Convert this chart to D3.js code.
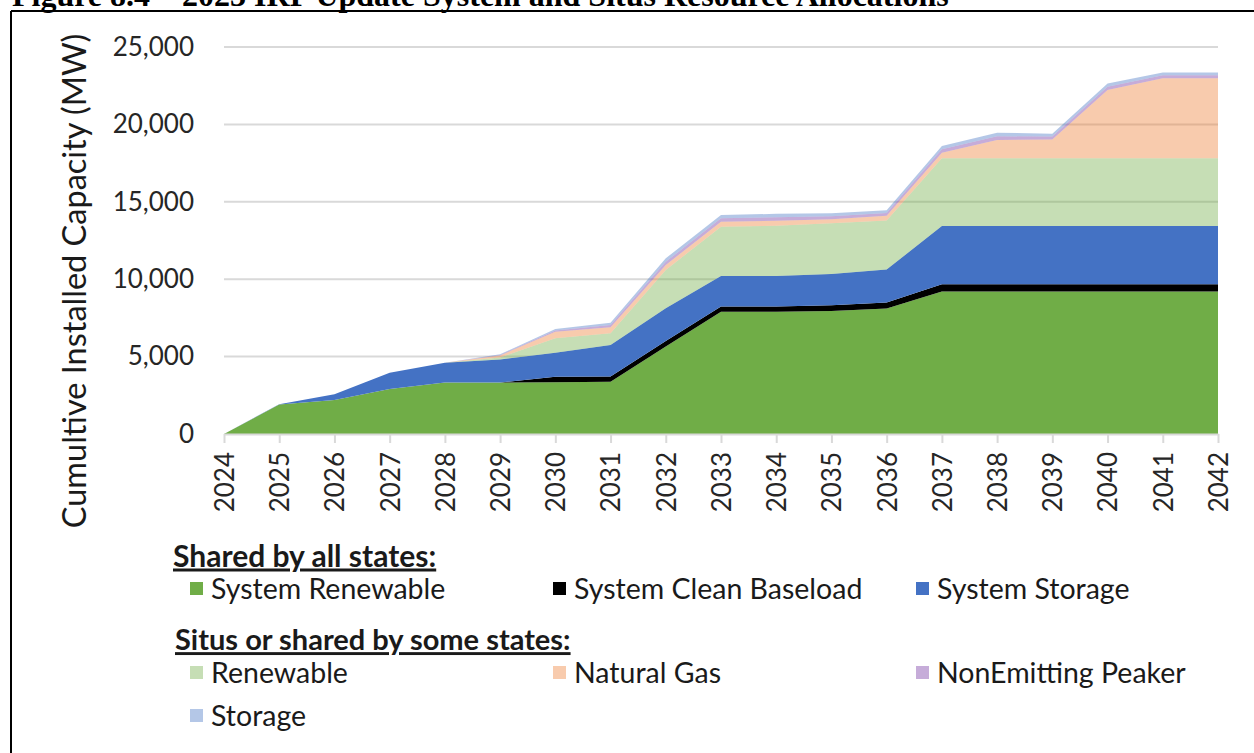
<!DOCTYPE html>
<html lang="en">
<head>
  <meta charset="UTF-8">
  <title>System and Situs Resource Allocations</title>
  <script src="https://d3js.org/d3.v7.min.js"></script>
  <style>
    body { margin: 0; background: white; }
    svg { display: block; }
    .tick text { font-family: Lato, sans-serif; fill: #262626; }
    .legend text { font-family: Lato, sans-serif; fill: #1a1a1a; }
  </style>
</head>
<body>
<svg id="chart"></svg>
<script>
// years on the x axis
const years = d3.range(2024, 2043);

// shared by all states (MW)
const systemRenewable     = [0,1900,2200,2900,3330,3330,3350,3380,5650,7900,7900,7950,8100,9200,9200,9200,9200,9200,9200];
const systemCleanBaseload = [0,0,0,0,0,0,350,330,360,330,330,360,400,470,470,470,470,470,470];
const systemStorage       = [0,20,370,1060,1280,1490,1550,2040,2110,1980,1980,2030,2120,3770,3770,3770,3770,3770,3770];

// situs or shared by some states
const situsRenewable      = [0,0,0,0,0,120,930,760,2480,3180,3240,3270,3180,4370,4370,4370,4370,4370,4370];
const naturalGas          = [0,0,0,0,0,130,430,380,320,325,330,260,300,360,1180,1220,4410,5170,5170];
const nonEmittingPeaker   = [0,0,0,0,0,40,80,150,200,220,220,200,180,230,240,190,220,190,190];
const situsStorage        = [0,0,0,0,0,40,90,150,230,215,220,190,170,200,230,180,210,190,190];

const yTicks = [0, 5000, 10000, 15000, 20000, 25000];

const seriesNames = ["System Renewable","System Clean Baseload","System Storage",
                     "Renewable","Natural Gas","NonEmitting Peaker","Storage"];
const seriesValues = [systemRenewable, systemCleanBaseload, systemStorage,
                      situsRenewable, naturalGas, nonEmittingPeaker, situsStorage];
const seriesColors = ["#70AD47","#000000","#4472C4","#70AD47","#ED7D31","#7030A0","#4472C4"];
const seriesOpacity = [1,1,1,0.4,0.4,0.4,0.4];

const width = 1254, height = 753;
const svg = d3.select("#chart").attr("width", width).attr("height", height);

// frame of the figure (top + left lines) and the caption, cut by the top edge
svg.append("line").attr("x1",11).attr("x2",width).attr("y1",11).attr("y2",11)
  .attr("stroke","#000").attr("stroke-width",2);
svg.append("line").attr("x1",11).attr("x2",11).attr("y1",11).attr("y2",height)
  .attr("stroke","#000").attr("stroke-width",2);
svg.append("text").attr("x",12).attr("y",6)
  .style("font-family","'Liberation Serif', 'Times New Roman', serif")
  .style("font-weight","bold").style("font-size","32px")
  .text("Figure 8.4 \u2013 2023 IRP Update System and Situs Resource Allocations");

const x = d3.scaleLinear().domain([2024, 2042]).range([224, 1218]);
const y = d3.scaleLinear().domain([0, 25000]).range([434, 47]);

// gridlines
svg.append("g").selectAll("line")
  .data(yTicks.filter(d => d > 0))
  .join("line")
  .attr("x1", x(2024)).attr("x2", x(2042))
  .attr("y1", d => y(d)).attr("y2", d => y(d))
  .attr("stroke", "#d9d9d9").attr("stroke-width", 2);

// stacked areas
const table = years.map((yr, i) => {
  const row = { year: yr };
  seriesNames.forEach((n, k) => row[n] = seriesValues[k][i]);
  return row;
});
const stack = d3.stack().keys(seriesNames)(table);
const area = d3.area()
  .x(d => x(d.data.year))
  .y0(d => y(d[0]))
  .y1(d => y(d[1]));

svg.append("g").selectAll("path")
  .data(stack)
  .join("path")
  .attr("d", area)
  .attr("fill", (d, i) => seriesColors[i])
  .attr("fill-opacity", (d, i) => seriesOpacity[i]);

// x axis
const xAxis = svg.append("g")
  .attr("transform", `translate(0,${y(0)})`)
  .call(d3.axisBottom(x).tickValues(years).tickFormat(d3.format("d")).tickSize(9).tickSizeOuter(0));
xAxis.select(".domain").attr("stroke", "#d9d9d9").attr("stroke-width", 2);
xAxis.selectAll(".tick line").attr("stroke", "#d9d9d9").attr("stroke-width", 2);
xAxis.selectAll(".tick text")
  .style("font-size", "26px")
  .attr("transform", "rotate(-90)")
  .attr("text-anchor", "end")
  .attr("x", -18).attr("y", 0).attr("dy", "0.36em");

// y axis
const yAxis = svg.append("g")
  .attr("transform", `translate(${x(2024)},0)`)
  .call(d3.axisLeft(y).tickValues(yTicks).tickFormat(d3.format(",")).tickSize(0).tickPadding(30));
yAxis.select(".domain").remove();
yAxis.selectAll(".tick text").style("font-size", "26px");

svg.append("text")
  .attr("transform", "translate(86,281) rotate(-90)")
  .attr("text-anchor", "middle")
  .style("font-family", "Lato, sans-serif").style("font-size", "32.5px").style("fill", "#1a1a1a")
  .text("Cumultive Installed Capacity (MW)");

// legend
const legend = svg.append("g").attr("class", "legend");
const headers = [
  { label: "Shared by all states:", x: 173, y: 556, size: 30 },
  { label: "Situs or shared by some states:", x: 175, y: 640, size: 29 }
];
legend.selectAll("text.header")
  .data(headers)
  .join("text")
  .attr("class", "header")
  .attr("x", d => d.x).attr("y", d => d.y).attr("dy", "0.35em")
  .style("font-size", d => d.size + "px").style("font-weight", "bold")
  .style("text-decoration", "underline")
  .text(d => d.label);

const colX = [190, 553, 916];
const rowY = [589, 673, 716];
const legendPos = [[0,0],[1,0],[2,0],[0,1],[1,1],[2,1],[0,2]];
const items = legend.selectAll("g.item")
  .data(seriesNames)
  .join("g")
  .attr("class", "item")
  .attr("transform", (d, i) => `translate(${colX[legendPos[i][0]]},${rowY[legendPos[i][1]]})`);
items.append("rect")
  .attr("x", 0).attr("y", -7).attr("width", 13).attr("height", 13)
  .attr("fill", (d, i) => seriesColors[i])
  .attr("fill-opacity", (d, i) => seriesOpacity[i]);
items.append("text")
  .attr("x", 21).attr("y", 0).attr("dy", "0.35em")
  .style("font-size", "28.5px")
  .text(d => d);
</script>
</body>
</html>
